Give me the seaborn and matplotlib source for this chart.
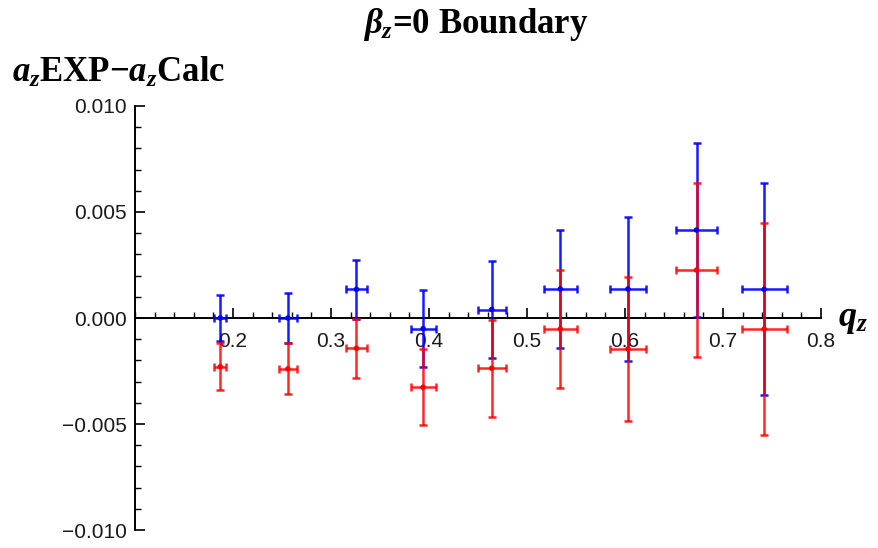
import matplotlib
matplotlib.use("Agg")
import matplotlib.pyplot as plt
from matplotlib.ticker import MultipleLocator
import numpy as np
import pandas as pd
import seaborn as sns

# q_z positions and their horizontal uncertainties
q = [0.187, 0.256, 0.326, 0.394, 0.464, 0.534, 0.603, 0.673, 0.742]
q_err = [0.006, 0.0093, 0.011, 0.0128, 0.0145, 0.0167, 0.0184, 0.021, 0.023]

# a_z(EXP) - a_z(Calc) for the two series
diff_blue = [0.0, 0.0, 0.00135, -0.0005, 0.0004, 0.00137, 0.00137, 0.00415, 0.00135]
diff_red = [-0.0023, -0.0024, -0.00143, -0.00327, -0.00237, -0.00052, -0.00146, 0.00226, -0.00052]
diff_err = [0.0011, 0.0012, 0.0014, 0.0018, 0.00228, 0.0028, 0.0034, 0.0041, 0.005]

x_ticks = [0.2, 0.3, 0.4, 0.5, 0.6, 0.7, 0.8]
x_tick_labels = ["0.2", "0.3", "0.4", "0.5", "0.6", "0.7", "0.8"]
y_ticks = [-0.010, -0.005, 0.0, 0.005, 0.010]
y_tick_labels = ["\u22120.010", "\u22120.005", "0.000", "0.005", "0.010"]

sns.set_style("ticks")
plt.rcParams["font.family"] = ["Liberation Sans", "DejaVu Sans"]
plt.rcParams["text.color"] = "black"
plt.rcParams["mathtext.fontset"] = "custom"
plt.rcParams["mathtext.rm"] = "Liberation Serif:bold"
plt.rcParams["mathtext.it"] = "Liberation Serif:italic:bold"
plt.rcParams["mathtext.bf"] = "Liberation Serif:bold"

df = pd.DataFrame({
    "q": q * 2,
    "diff": diff_blue + diff_red,
    "series": ["blue"] * len(q) + ["red"] * len(q),
})
palette = {"blue": "#0000ff", "red": "#ff0000"}

fig = plt.figure(figsize=(8.79, 5.48), dpi=100)
ax = fig.add_axes([135 / 879, 1 - 530 / 548, 686 / 879, 424 / 548])

for name, vals, alpha in [("blue", diff_blue, 0.9), ("red", diff_red, 0.85)]:
    ax.errorbar(q, vals, xerr=q_err, yerr=diff_err, fmt="none",
                ecolor=palette[name], elinewidth=1.8, capsize=3.2, capthick=1.8,
                alpha=alpha, clip_on=False, zorder=3)

sns.scatterplot(data=df, x="q", y="diff", hue="series", palette=palette,
                s=16, edgecolor="none", legend=False, ax=ax, zorder=5)

ax.set_xlim(0.1, 0.8)
ax.set_ylim(-0.010, 0.010)
ax.set_xlabel("")
ax.set_ylabel("")

for side in ("top", "right"):
    ax.spines[side].set_visible(False)
ax.spines["bottom"].set_position(("data", 0))
for side in ("bottom", "left"):
    ax.spines[side].set_color("black")
    ax.spines[side].set_linewidth(1.4)
    ax.spines[side].set_zorder(2)

ax.set_xticks(x_ticks, labels=x_tick_labels)
ax.set_yticks(y_ticks, labels=y_tick_labels)
ax.xaxis.set_minor_locator(MultipleLocator(0.02))
ax.yaxis.set_minor_locator(MultipleLocator(0.001))
ax.tick_params(which="major", direction="in", length=7, width=1.2,
               color="black", labelsize=15, labelcolor="#1a1a1a")
ax.tick_params(which="minor", direction="in", length=4, width=1.0, color="black")
ax.tick_params(axis="x", which="major", pad=10)
ax.tick_params(axis="y", which="major", pad=6)

fig.text(476 / 879, 1 - 33 / 548, r"$\beta_z$=0 Boundary", ha="center",
         va="baseline", fontsize=25, family="Liberation Serif", weight="bold",
         color="black")
fig.text(12 / 879, 1 - 82 / 548, r"$a_z$EXP$-a_z$Calc", ha="left",
         va="baseline", fontsize=25, family="Liberation Serif", weight="bold",
         color="black")
ax.text(0.817, 0.0, r"$q_z$", ha="left", va="center", fontsize=26,
        clip_on=False, color="black")

fig.savefig("out.png", dpi=100)
